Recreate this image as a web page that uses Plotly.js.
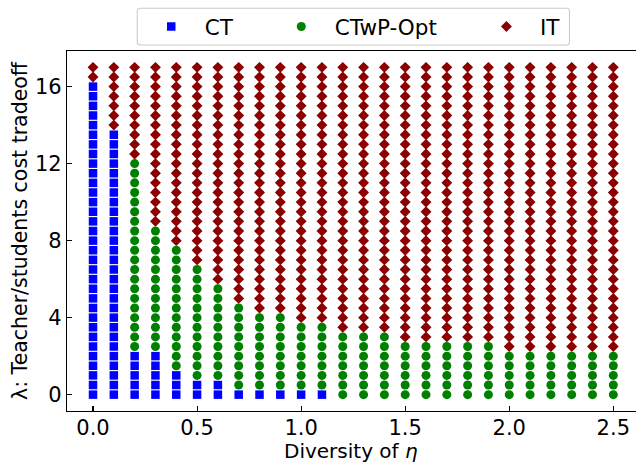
<!DOCTYPE html>
<html><head><meta charset="utf-8">
<script src="https://cdn.plot.ly/plotly-3.0.1.min.js"></script>
<style>html,body{margin:0;padding:0;overflow:hidden;background:#fff}</style>
</head><body><div id="chart" style="width:636px;height:463px"></div>
<script>
// Diversity values (x) for each column
var eta = [0.0,0.1,0.2,0.3,0.4,0.5,0.6,0.7,0.8,0.9,1.0,1.1,1.2,1.3,1.4,1.5,1.6,1.7,1.8,1.9,2.0,2.1,2.2,2.3,2.4,2.5];
// lambda values evaluated in every column
var lambdas = [0,0.5,1,1.5,2,2.5,3,3.5,4,4.5,5,5.5,6,6.5,7,7.5,8,8.5,9,9.5,10,10.5,11,11.5,12,12.5,13,13.5,14,14.5,15,15.5,16,16.5,17];
// highest lambda where CT is optimal (null = never)
var ctMax = [16,13.5,2,2,1,0.5,0.5,0,0,0,0,0,null,null,null,null,null,null,null,null,null,null,null,null,null,null];
// lowest lambda where IT is optimal
var itMin = [16.5,14,12.5,9,8,7,6,5,4.5,4.5,4,4,3.5,3.5,3.5,3,3,3,3,3,2.5,2.5,2.5,2.5,2.5,2.5];
var names = ['CT','CTwP-Opt','IT'];
var colors = ['#0000ff','#008000','#8b0000'];
var symbols = ['square','circle','diamond'];
var sizes = [8.5,9,8.4];

var pts = [[[],[]],[[],[]],[[],[]]];
eta.forEach(function(e,i){
  lambdas.forEach(function(l){
    var k;
    if (ctMax[i] !== null && l <= ctMax[i]) k = 0;
    else if (l >= itMin[i]) k = 2;
    else k = 1;
    pts[k][0].push(e); pts[k][1].push(l);
  });
});

var FONT = 'DejaVu Sans, sans-serif';
var legNames = ['legend','legend2','legend3'];
var traces = names.map(function(n,k){
  return {x:pts[k][0], y:pts[k][1], mode:'markers', type:'scatter', name:n,
    legend: legNames[k],
    marker:{color:colors[k], symbol:symbols[k], size:sizes[k], line:{width:0}}};
});

// plot area geometry
var L = 67.3, R = 0, T = 51, B = 52.3, W = 636, H = 463;
var pw = W - L - R, ph = H - T - B;
function px(x){ return (x - L)/pw; }
function py(y){ return (H - B - y)/ph; }

// legend box (rounded)
var bx0 = px(137.5), bx1 = px(569.5), by0 = py(45), by1 = py(8.3);
var rx = 3/pw, ry = 3/ph;
var path = 'M '+(bx0+rx)+','+by1+' L '+(bx1-rx)+','+by1+' Q '+bx1+','+by1+' '+bx1+','+(by1-ry)+
  ' L '+bx1+','+(by0+ry)+' Q '+bx1+','+by0+' '+(bx1-rx)+','+by0+
  ' L '+(bx0+rx)+','+by0+' Q '+bx0+','+by0+' '+bx0+','+(by0+ry)+
  ' L '+bx0+','+(by1-ry)+' Q '+bx0+','+by1+' '+(bx0+rx)+','+by1+' Z';

function leg(xp){
  return {x:px(xp), xanchor:'left', y:py(26.5), yanchor:'middle', orientation:'h',
    bgcolor:'rgba(0,0,0,0)', borderwidth:0, itemwidth:57,
    font:{family:FONT, size:21.5, color:'#000'}};
}

var layout = {
  width:W, height:H, margin:{l:L, r:R, t:T, b:B},
  paper_bgcolor:'#fff', plot_bgcolor:'#fff',
  font:{family:FONT, size:21, color:'#000'},
  showlegend:true,
  legend: leg(138), legend2: leg(268), legend3: leg(473),
  xaxis:{range:[-0.125, 2.609], tickvals:[0,0.5,1,1.5,2,2.5], ticktext:['0.0','0.5','1.0','1.5','2.0','2.5'],
    ticks:'inside', ticklen:5, tickwidth:1.1, tickcolor:'#000', ticklabelstandoff:-2,
    showline:true, linecolor:'#000', linewidth:1.1, mirror:true, showgrid:false, zeroline:false,
    tickfont:{family:FONT, size:21}},
  yaxis:{range:[-0.85, 17.85], tickvals:[0,4,8,12,16],
    ticks:'inside', ticklen:5, tickwidth:1.1, tickcolor:'#000',
    showline:true, linecolor:'#000', linewidth:1.1, mirror:false, showgrid:false, zeroline:false,
    tickfont:{family:FONT, size:21},
    title:{text:'λ: Teacher/students cost tradeoff', font:{family:FONT, size:20.5}, standoff:1}},
  annotations:[{text:'Diversity of <i>η</i>', xref:'paper', yref:'paper', x:px(351.5), y:py(451),
    xanchor:'center', yanchor:'middle', showarrow:false, font:{family:FONT, size:20, color:'#000'}}],
  shapes:[{type:'path', xref:'paper', yref:'paper', path:path, line:{color:'#cccccc', width:1.1}, fillcolor:'rgba(255,255,255,0.8)', layer:'above'}]
};

Plotly.newPlot('chart', traces, layout, {staticPlot:true, displayModeBar:false});
</script></body></html>
